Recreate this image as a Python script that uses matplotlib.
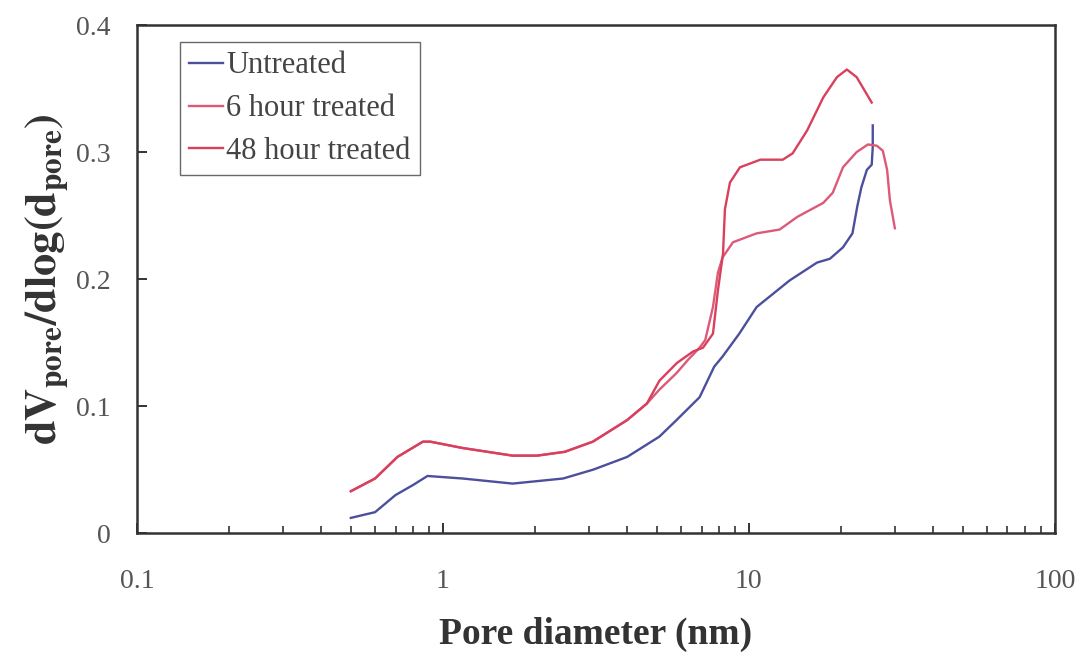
import matplotlib
matplotlib.use('Agg')
import matplotlib.pyplot as plt
from matplotlib.ticker import FixedLocator, FixedFormatter, LogLocator, NullFormatter

plt.rcParams['font.family'] = 'Liberation Serif'
plt.rcParams['mathtext.fontset'] = 'stix'

# pore size distribution
d_untreated = [0.5, 0.6, 0.7, 0.8, 0.89, 1.16, 1.69, 2.47, 3.1, 4.0, 5.1, 5.8,
               6.9, 7.7, 8.2, 9.3, 10.6, 13.6, 16.7, 18.4, 20.3, 21.8, 22.6,
               23.3, 24.3, 25.2, 25.4, 25.4]
v_untreated = [0.012, 0.0165, 0.030, 0.038, 0.045, 0.043, 0.039, 0.043, 0.050,
               0.060, 0.076, 0.089, 0.107, 0.131, 0.139, 0.157, 0.178, 0.199,
               0.213, 0.216, 0.225, 0.236, 0.257, 0.272, 0.286, 0.290, 0.304, 0.321]

d_6h = [0.5, 0.6, 0.71, 0.86, 0.91, 1.16, 1.69, 2.03, 2.5, 3.09, 4.0, 4.64,
        5.1, 5.8, 6.3, 6.9, 7.2, 7.63, 7.92, 8.2, 8.87, 10.6, 12.6, 14.4,
        17.5, 18.8, 20.3, 22.5, 24.5, 26.2, 27.4, 28.3, 28.9, 30.0]
v_6h = [0.033, 0.043, 0.060, 0.072, 0.072, 0.067, 0.061, 0.061, 0.064, 0.072,
        0.089, 0.102, 0.113, 0.126, 0.136, 0.146, 0.152, 0.178, 0.205, 0.217,
        0.229, 0.236, 0.239, 0.249, 0.260, 0.268, 0.288, 0.300, 0.306, 0.305,
        0.301, 0.286, 0.262, 0.240]

d_48h = [0.5, 0.6, 0.71, 0.86, 0.91, 1.16, 1.69, 2.03, 2.5, 3.09, 4.0, 4.64,
         5.1, 5.82, 6.57, 7.08, 7.63, 7.92, 8.23, 8.35, 8.67, 9.35, 10.9,
         12.9, 13.9, 15.5, 17.5, 19.4, 20.9, 22.5, 25.2]
v_48h = [0.033, 0.043, 0.060, 0.072, 0.072, 0.067, 0.061, 0.061, 0.064, 0.072,
         0.089, 0.102, 0.120, 0.134, 0.143, 0.146, 0.157, 0.191, 0.220, 0.255,
         0.276, 0.288, 0.294, 0.294, 0.299, 0.317, 0.343, 0.359, 0.365, 0.359,
         0.339]

x_ticks = [0.1, 1, 10, 100]
x_ticklabels = ['0.1', '1', '10', '100']
y_ticks = [0, 0.1, 0.2, 0.3, 0.4]
y_ticklabels = ['0', '0.1', '0.2', '0.3', '0.4']

fig = plt.figure(figsize=(10.83, 6.59), dpi=100)
ax = fig.add_axes([0.1265, 0.191, 0.8475, 0.771])

ax.plot(d_untreated, v_untreated, color='#4b4f9c', lw=1.7, label='Untreated')
ax.plot(d_6h, v_6h, color='#dc5a78', lw=1.7, label='6 hour treated')
ax.plot(d_48h, v_48h, color='#d8405c', lw=1.7, label='48 hour treated')

ax.set_xscale('log')
ax.set_xlim(0.1, 100)
ax.set_ylim(0, 0.4)

ax.xaxis.set_major_locator(FixedLocator(x_ticks))
ax.xaxis.set_major_formatter(FixedFormatter(x_ticklabels))
ax.xaxis.set_minor_locator(LogLocator(base=10, subs=range(2, 10)))
ax.xaxis.set_minor_formatter(NullFormatter())
ax.yaxis.set_major_locator(FixedLocator(y_ticks))
ax.yaxis.set_major_formatter(FixedFormatter(y_ticklabels))

ax.tick_params(which='major', direction='in', length=7, width=1.4,
               labelsize=20, colors='#333333')
ax.tick_params(which='minor', direction='in', length=5, width=1.2, colors='#333333')
ax.tick_params(axis='y', which='major', pad=19)
ax.tick_params(axis='x', which='major', pad=26)
for lab in ax.get_xticklabels() + ax.get_yticklabels():
    lab.set_color('#555555')
for sp in ax.spines.values():
    sp.set_linewidth(1.8)
    sp.set_color('#333333')

ax.set_xlabel('Pore diameter (nm)', fontsize=27, fontweight='bold',
              color='#333333', labelpad=16)
ax.set_ylabel(r'$\mathbf{dV_{pore}/dlog(d_{pore})}$', fontsize=32,
              color='#333333', labelpad=4)

leg = ax.legend(loc='upper left', bbox_to_anchor=(0.047, 0.966), fontsize=22,
                frameon=True, fancybox=False, handlelength=1.1,
                handletextpad=0.1, borderpad=0.3, labelspacing=0.45,
                borderaxespad=0)
leg.get_frame().set_edgecolor('#444444')
leg.get_frame().set_linewidth(1.0)
for t in leg.get_texts():
    t.set_color('#444444')

fig.savefig('out.png', dpi=100)
